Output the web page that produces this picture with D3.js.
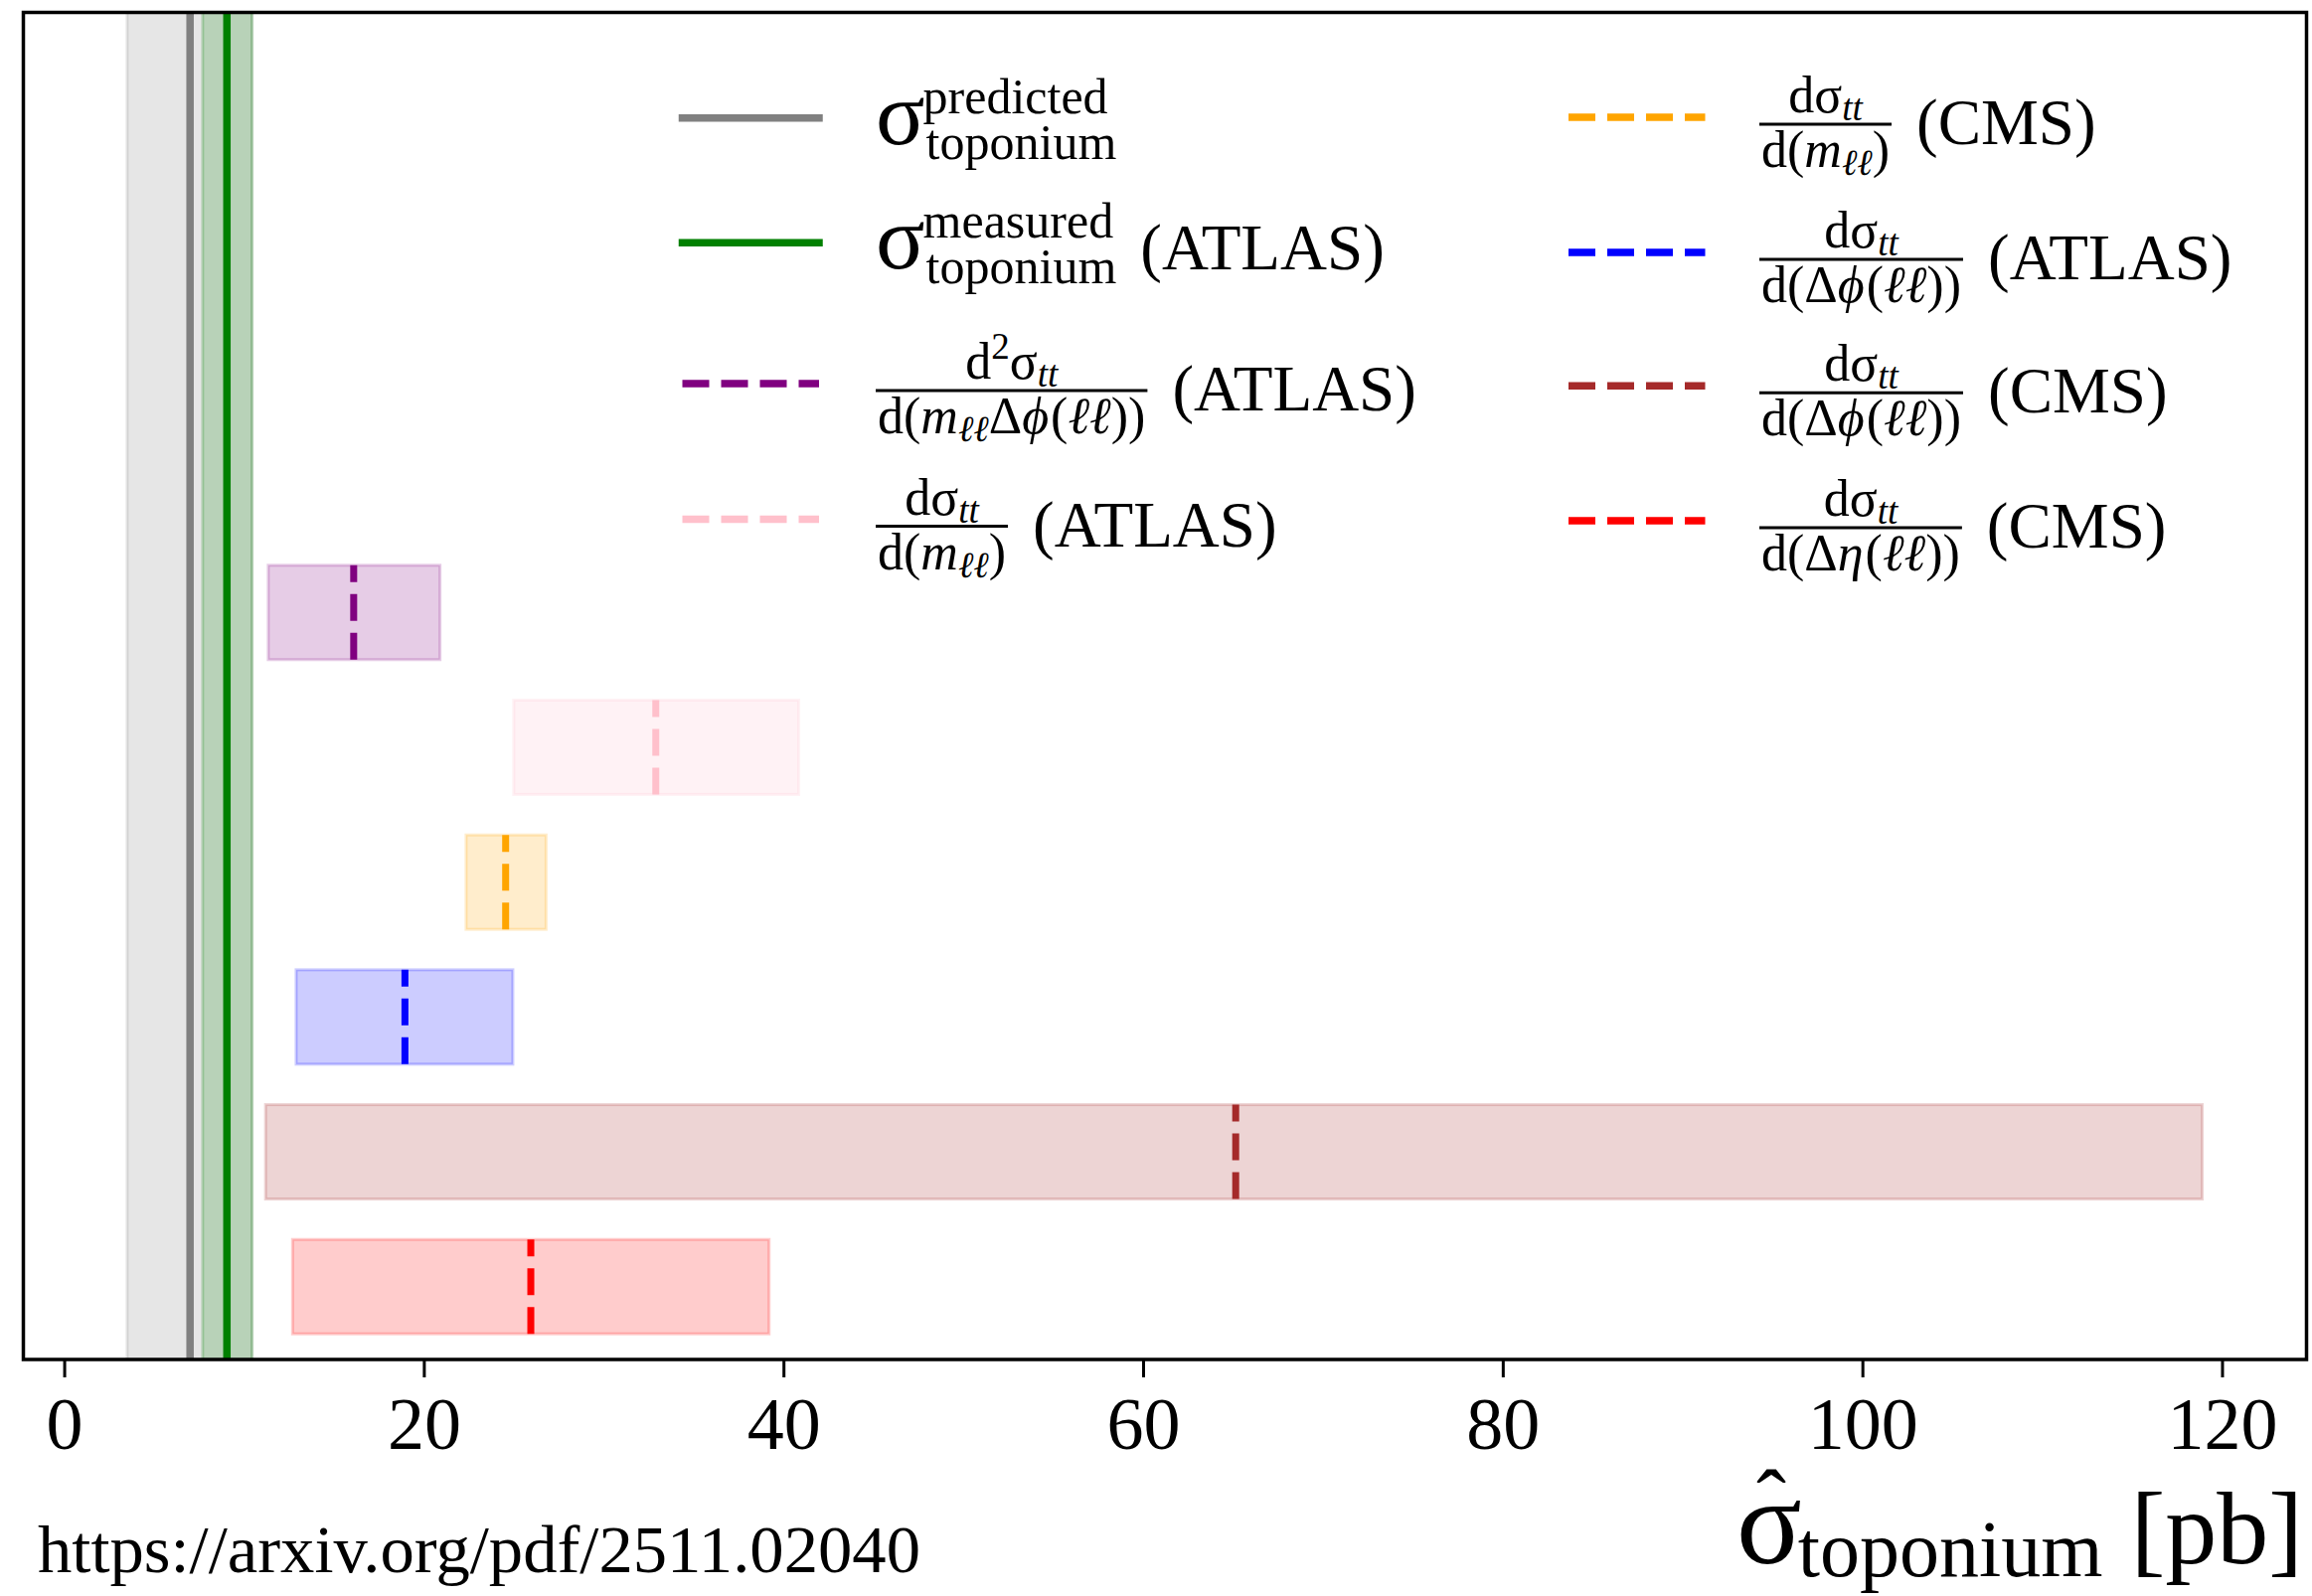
<!DOCTYPE html>
<html>
<head>
<meta charset="utf-8">
<script src="https://cdn.jsdelivr.net/npm/d3@7"></script>
<style>
  html, body { margin: 0; padding: 0; background: #fff; }
  svg { display: block; }
  text { font-family: "Liberation Serif", "Times New Roman", serif; fill: #000; }
</style>
</head>
<body>
<script>
// Toponium cross-section extracted from tt̄ differential measurements (pb)
const measurementNames = [
  "ATLAS d2σ/d(mℓℓ Δφ(ℓℓ))",
  "ATLAS dσ/d(mℓℓ)",
  "CMS dσ/d(mℓℓ)",
  "ATLAS dσ/d(Δφ(ℓℓ))",
  "CMS dσ/d(Δφ(ℓℓ))",
  "CMS dσ/d(Δη(ℓℓ))"
];
const centralValues = [16.1, 32.9, 24.55, 18.95, 65.15, 25.95];
const lowerValues   = [11.35, 25.0, 22.35, 12.9, 11.2, 12.7];
const upperValues   = [20.9, 40.85, 26.8, 24.95, 118.9, 39.2];

// Reference values: predicted and measured (ATLAS) toponium cross-section
const referenceNames   = ["predicted", "measured"];
const referenceCentral = [7.0, 9.05];
const referenceLow     = [3.5, 7.7];
const referenceHigh    = [10.45, 10.45];

const xTickValues = [0, 20, 40, 60, 80, 100, 120];

// ---- styling ----
const seriesColors = ["purple", "pink", "orange", "blue", "brown", "red"];
const referenceColors = ["gray", "green"];

const W = 2326, H = 1606;
const frame = { left: 23.5, right: 2320.5, top: 12.5, bottom: 1368 };

const svg = d3.select("body").append("svg")
  .attr("width", W).attr("height", H)
  .attr("viewBox", `0 0 ${W} ${H}`);
svg.append("rect").attr("width", W).attr("height", H).attr("fill", "#fff");

const x = d3.scaleLinear().domain([-2.27, 124.7]).range([frame.left, frame.right]);
const y = d3.scaleLinear().domain([-4.45, 5.54]).range([frame.top, frame.bottom]);
const barHalf = 0.35;

svg.append("clipPath").attr("id", "plotClip").append("rect")
  .attr("x", frame.left).attr("y", frame.top)
  .attr("width", frame.right - frame.left).attr("height", frame.bottom - frame.top);

const plot = svg.append("g").attr("clip-path", "url(#plotClip)");

// reference bands and lines
referenceNames.forEach((name, i) => {
  plot.append("rect")
    .attr("class", "band-" + name)
    .attr("x", x(referenceLow[i]))
    .attr("width", x(referenceHigh[i]) - x(referenceLow[i]))
    .attr("y", frame.top - 5)
    .attr("height", frame.bottom - frame.top + 10)
    .attr("fill", referenceColors[i]).attr("fill-opacity", 0.2)
    .attr("stroke", referenceColors[i]).attr("stroke-opacity", 0.2)
    .attr("stroke-width", 3);
  plot.append("line")
    .attr("class", "line-" + name)
    .attr("x1", x(referenceCentral[i])).attr("x2", x(referenceCentral[i]))
    .attr("y1", frame.top).attr("y2", frame.bottom)
    .attr("stroke", referenceColors[i]).attr("stroke-width", 7.5);
});

// measurement intervals with dashed central values
const rows = measurementNames.map((name, i) => ({
  name, i, c: centralValues[i], lo: lowerValues[i], hi: upperValues[i], color: seriesColors[i]
}));

plot.selectAll("rect.interval").data(rows).join("rect")
  .attr("class", "interval")
  .attr("x", d => x(d.lo))
  .attr("width", d => x(d.hi) - x(d.lo))
  .attr("y", d => y(d.i - barHalf))
  .attr("height", d => y(d.i + barHalf) - y(d.i - barHalf))
  .attr("fill", d => d.color).attr("fill-opacity", 0.2)
  .attr("stroke", d => d.color).attr("stroke-opacity", 0.2)
  .attr("stroke-width", 3);

plot.selectAll("line.central").data(rows).join("line")
  .attr("class", "central")
  .attr("x1", d => x(d.c)).attr("x2", d => x(d.c))
  .attr("y1", d => y(d.i + barHalf)).attr("y2", d => y(d.i - barHalf))
  .attr("stroke", d => d.color).attr("stroke-width", 7)
  .attr("stroke-dasharray", "27 12");

// frame
svg.append("rect")
  .attr("x", frame.left).attr("y", frame.top)
  .attr("width", frame.right - frame.left).attr("height", frame.bottom - frame.top)
  .attr("fill", "none").attr("stroke", "#000").attr("stroke-width", 3.5);

// x axis
const xAxis = d3.axisBottom(x).tickValues(xTickValues).tickSize(18).tickPadding(8)
  .tickFormat(d3.format("d"));
const gx = svg.append("g").attr("transform", `translate(0,${frame.bottom})`).call(xAxis);
gx.select(".domain").remove();
gx.selectAll(".tick line").attr("stroke", "#000").attr("stroke-width", 3);
gx.selectAll(".tick text")
  .attr("font-family", '"Liberation Serif", "Times New Roman", serif')
  .attr("font-size", 74).attr("dy", null).attr("y", 90);

// ---- text layout helpers (math-style labels) ----
function piece(g, px, py, p) {
  const t = g.append("text").attr("x", px).attr("y", py)
    .attr("font-size", p.s).text(p.t);
  if (p.it) t.attr("font-style", "italic");
  return t.node().getComputedTextLength();
}
function run(g, x0, y0, pieces) {
  let cx = x0;
  for (const p of pieces) {
    cx += p.pre || 0;
    cx += piece(g, cx, y0 + (p.dy || 0), p);
    cx += p.post || 0;
  }
  return cx;
}
function fraction(g, x0, lineY, num, den) {
  const gn = g.append("g"), gd = g.append("g");
  const wn = run(gn, 0, 0, num), wd = run(gd, 0, 0, den);
  const w = Math.max(wn, wd) + 4;
  gn.attr("transform", `translate(${x0 + (w - wn) / 2},${lineY - 12})`);
  gd.attr("transform", `translate(${x0 + (w - wd) / 2},${lineY + 43})`);
  g.append("line").attr("x1", x0).attr("x2", x0 + w)
    .attr("y1", lineY).attr("y2", lineY)
    .attr("stroke", "#000").attr("stroke-width", 3);
  return x0 + w;
}
function sigmaSupSub(g, x0, h, sup, sub) {
  const sw = piece(g, x0, h + 26, { t: "σ", s: 92 });
  const a = piece(g, x0 + sw - 2, h - 5, { t: sup, s: 50 });
  const b = piece(g, x0 + sw + 1, h + 41, { t: sub, s: 50 });
  return x0 + sw + Math.max(a - 2, b + 1);
}

const FS = 52, FSS = 37, MAIN = 65;
const numD = [{ t: "dσ", s: FS }, { t: "tt", s: FSS, dy: 8, it: true }];
const numD2 = [{ t: "d", s: FS }, { t: "2", s: FSS, dy: -20 }, { t: "σ", s: FS }, { t: "tt", s: FSS, dy: 8, it: true }];
const denMll = [{ t: "d(", s: FS }, { t: "m", s: FS, it: true }, { t: "ℓℓ", s: FSS, dy: 8, it: true }, { t: ")", s: FS }];
const denDphi = [{ t: "d(Δ", s: FS }, { t: "ϕ", s: FS, it: true }, { t: "(", s: FS, pre: 2 }, { t: "ℓℓ", s: FS, it: true }, { t: "))", s: FS }];
const denDeta = [{ t: "d(Δ", s: FS }, { t: "η", s: FS, it: true }, { t: "(", s: FS, pre: 2 }, { t: "ℓℓ", s: FS, it: true }, { t: "))", s: FS }];
const denMllDphi = [{ t: "d(", s: FS }, { t: "m", s: FS, it: true }, { t: "ℓℓ", s: FSS, dy: 8, it: true },
  { t: "Δ", s: FS }, { t: "ϕ", s: FS, it: true }, { t: "(", s: FS, pre: 2 }, { t: "ℓℓ", s: FS, it: true }, { t: "))", s: FS }];

const legend = svg.append("g").attr("class", "legend");
const handleLeft = [686.5, 824], handleRight = [1578, 1715.5];

function handle(hx, h, color, dashed) {
  legend.append("line").attr("x1", hx[0]).attr("x2", hx[1])
    .attr("y1", h).attr("y2", h)
    .attr("stroke", color).attr("stroke-width", 7.5)
    .attr("stroke-linecap", dashed ? "butt" : "square")
    .attr("stroke-dasharray", dashed ? "27 12" : null);
}

// left column
{
  const hs = [118.7, 244.3, 386, 522.5];
  const tx = 881;
  handle(handleLeft, hs[0], referenceColors[0], false);
  sigmaSupSub(legend, tx, hs[0], "predicted", "toponium");

  handle(handleLeft, hs[1], referenceColors[1], false);
  let e = sigmaSupSub(legend, tx, hs[1], "measured", "toponium");
  piece(legend, e + 24, hs[1] + 27, { t: "(ATLAS)", s: MAIN });

  handle(handleLeft, hs[2], seriesColors[0], true);
  e = fraction(legend, tx, hs[2] + 7, numD2, denMllDphi);
  piece(legend, e + 25, hs[2] + 27, { t: "(ATLAS)", s: MAIN });

  handle(handleLeft, hs[3], seriesColors[1], true);
  e = fraction(legend, tx, hs[3] + 7, numD, denMll);
  piece(legend, e + 25, hs[3] + 27, { t: "(ATLAS)", s: MAIN });
}
// right column
{
  const hs = [118, 254, 388.3, 524];
  const tx = 1770;
  const dens = [denMll, denDphi, denDphi, denDeta];
  const exps = ["(CMS)", "(ATLAS)", "(CMS)", "(CMS)"];
  hs.forEach((h, k) => {
    handle(handleRight, h, seriesColors[k + 2], true);
    const e = fraction(legend, tx, h + 7, numD, dens[k]);
    piece(legend, e + 25, h + 27, { t: exps[k], s: MAIN });
  });
}

// x-axis label: σ̂_toponium [pb]
{
  const g = svg.append("g").attr("class", "xlabel");
  const sx = 1747;
  const sw = piece(g, sx, 1573, { t: "σ", s: 122 });
  g.append("text").attr("x", sx + sw / 2 + 2).attr("y", 1542).attr("text-anchor", "middle")
    .attr("font-size", 90).text("ˆ");
  piece(g, sx + sw - 4, 1586, { t: "toponium", s: 80 });
  g.append("text").attr("x", 2317).attr("y", 1573).attr("text-anchor", "end")
    .attr("font-size", 104).text("[pb]");
}

// source reference
svg.append("text").attr("x", 38).attr("y", 1582).attr("font-size", 68)
  .attr("textLength", 888).attr("lengthAdjust", "spacingAndGlyphs")
  .text("https://arxiv.org/pdf/2511.02040");
</script>
</body>
</html>
